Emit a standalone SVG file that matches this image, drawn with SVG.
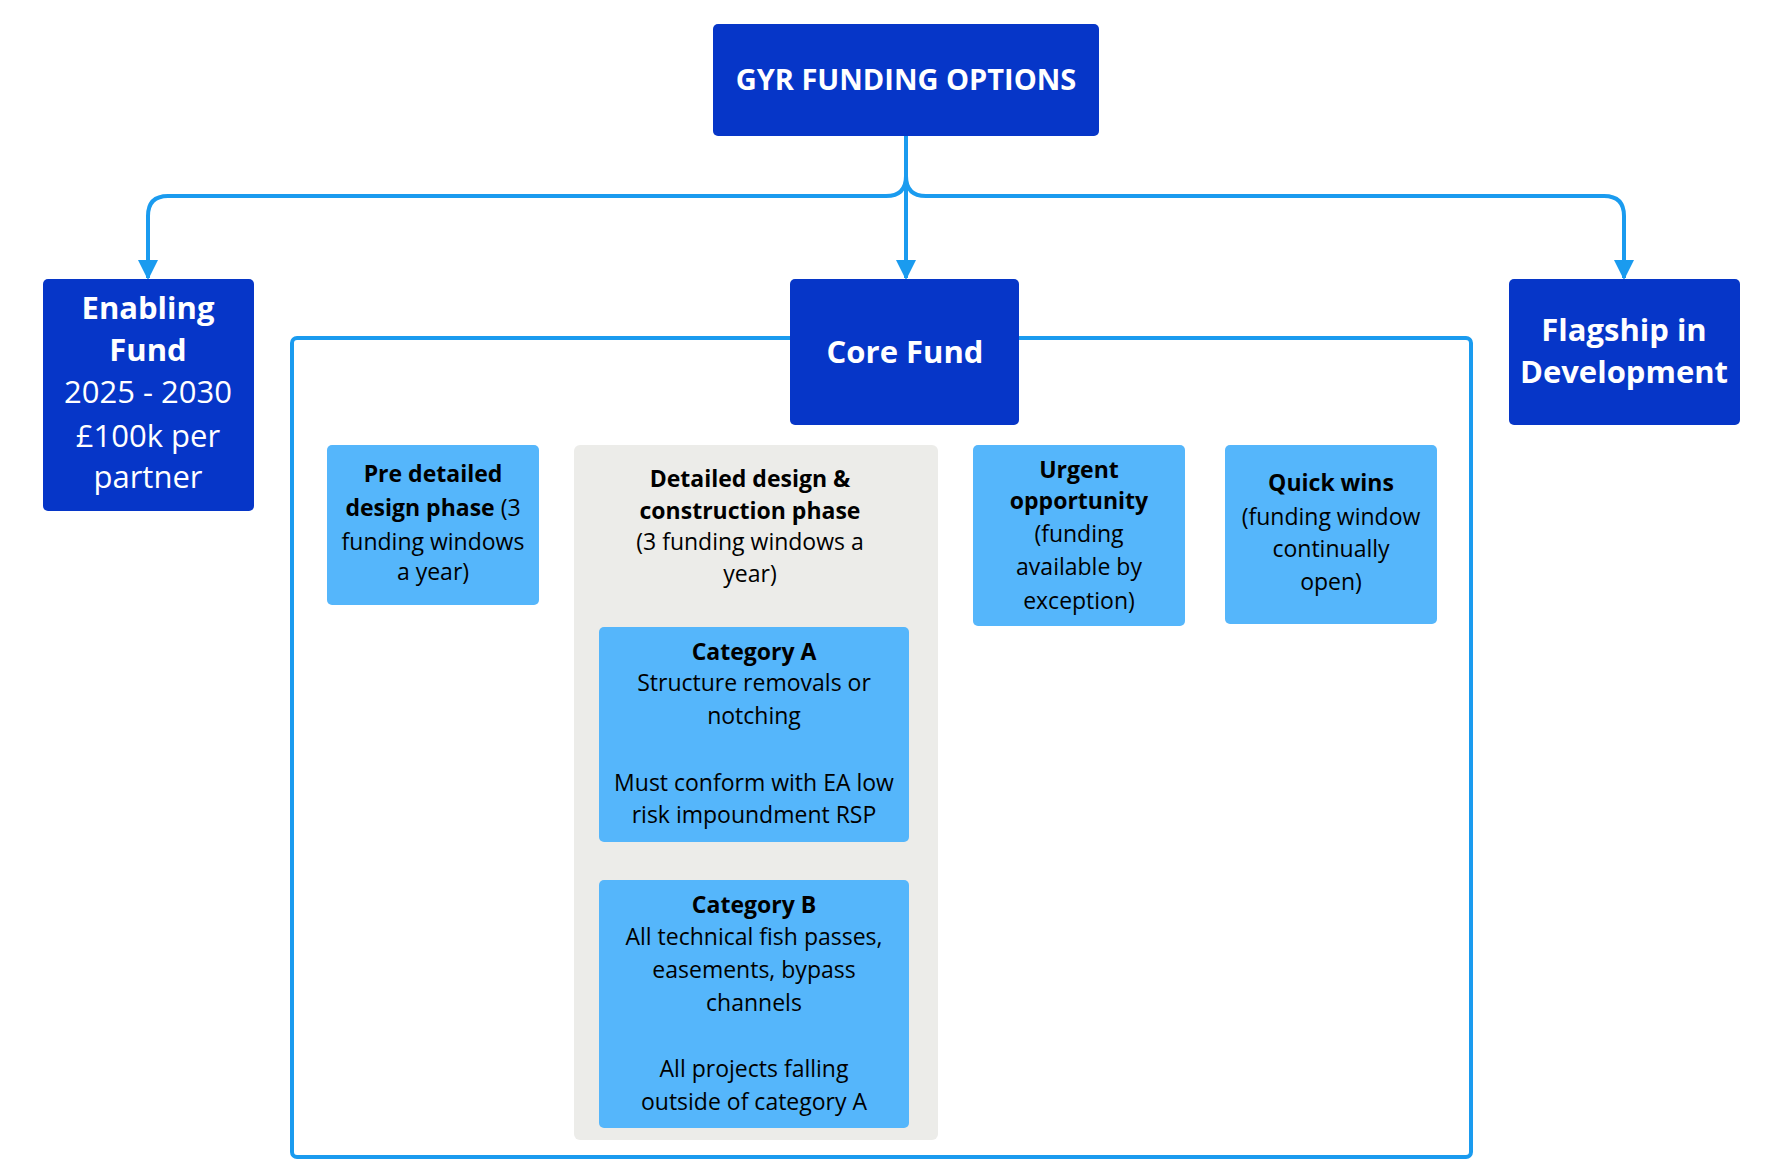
<svg xmlns="http://www.w3.org/2000/svg" width="1775" height="1173" viewBox="0 0 1775 1173">
<style>
.dk{fill:#0636C8}
.lt{fill:#55B6FB}
.gr{fill:#ECECE9}
.tw{fill:#fff;font-family:"Open Sans",sans-serif;text-anchor:middle}
.tb{fill:#000;font-family:"Open Sans",sans-serif;text-anchor:middle;font-size:23px}
.b{font-weight:bold}
.c{fill:none;stroke:#1A9BEF;stroke-width:4}
</style>
<defs>
<marker id="ah" viewBox="0 0 10 10" refX="9" refY="5" markerWidth="5" markerHeight="5" orient="auto" markerUnits="strokeWidth">
<path d="M0 0L10 5L0 10z" fill="#1A9BEF"/>
</marker>
</defs>
<rect x="0" y="0" width="1775" height="1173" fill="#fff"/>
<g id="container"><rect x="292" y="338" width="1179" height="819" rx="5" fill="none" stroke="#1A9BEF" stroke-width="4"/></g>
<g id="connectors">
<path class="c" d="M906 136V176Q906 196 886 196H168Q148 196 148 216V278" marker-end="url(#ah)"/>
<path class="c" d="M906 136V176Q906 196 926 196H1604Q1624 196 1624 216V278" marker-end="url(#ah)"/>
<path class="c" d="M906 136V278" marker-end="url(#ah)"/>
</g>
<g id="title"><rect class="dk" x="713" y="24" width="386" height="112" rx="5"/>
<text class="tw b" x="906" y="90" font-size="29">GYR FUNDING OPTIONS</text></g>
<g id="enabling"><rect class="dk" x="43" y="279" width="211" height="232" rx="5"/>
<text class="tw" font-size="31"><tspan class="b" x="148" y="319">Enabling</tspan><tspan class="b" x="148" y="361">Fund</tspan><tspan x="148" y="403">2025 - 2030</tspan><tspan x="148" y="447">£100k per</tspan><tspan x="148" y="488">partner</tspan></text></g>
<g id="core"><rect class="dk" x="790" y="279" width="229" height="146" rx="5"/>
<text class="tw b" x="905" y="363" font-size="31">Core Fund</text></g>
<g id="flagship"><rect class="dk" x="1509" y="279" width="231" height="146" rx="5"/>
<text class="tw b" font-size="31"><tspan x="1624" y="341">Flagship in</tspan><tspan x="1624" y="383">Development</tspan></text></g>
<g id="pre"><rect class="lt" x="327" y="445" width="212" height="160" rx="5"/>
<text class="tb"><tspan class="b" x="433" y="482">Pre detailed</tspan><tspan x="433" y="516"><tspan class="b">design phase</tspan> (3</tspan><tspan x="433" y="550">funding windows</tspan><tspan x="433" y="580">a year)</tspan></text></g>
<g id="detailed"><rect class="gr" x="574" y="445" width="364" height="695" rx="6"/>
<text class="tb"><tspan class="b" x="750" y="487">Detailed design &amp;</tspan><tspan class="b" x="750" y="519">construction phase</tspan><tspan x="750" y="550">(3 funding windows a</tspan><tspan x="750" y="582">year)</tspan></text></g>
<g id="catA"><rect class="lt" x="599" y="627" width="310" height="215" rx="5"/>
<text class="tb"><tspan class="b" x="754" y="660">Category A</tspan><tspan x="754" y="691">Structure removals or</tspan><tspan x="754" y="724">notching</tspan><tspan x="754" y="791">Must conform with EA low</tspan><tspan x="754" y="823">risk impoundment RSP</tspan></text></g>
<g id="catB"><rect class="lt" x="599" y="880" width="310" height="248" rx="5"/>
<text class="tb"><tspan class="b" x="754" y="913">Category B</tspan><tspan x="754" y="945">All technical fish passes,</tspan><tspan x="754" y="978">easements, bypass</tspan><tspan x="754" y="1011">channels</tspan><tspan x="754" y="1077">All projects falling</tspan><tspan x="754" y="1110">outside of category A</tspan></text></g>
<g id="urgent"><rect class="lt" x="973" y="445" width="212" height="181" rx="5"/>
<text class="tb"><tspan class="b" x="1079" y="478">Urgent</tspan><tspan class="b" x="1079" y="509">opportunity</tspan><tspan x="1079" y="542">(funding</tspan><tspan x="1079" y="575">available by</tspan><tspan x="1079" y="609">exception)</tspan></text></g>
<g id="quick"><rect class="lt" x="1225" y="445" width="212" height="179" rx="5"/>
<text class="tb"><tspan class="b" x="1331" y="491">Quick wins</tspan><tspan x="1331" y="525">(funding window</tspan><tspan x="1331" y="557">continually</tspan><tspan x="1331" y="590">open)</tspan></text></g>
</svg>
